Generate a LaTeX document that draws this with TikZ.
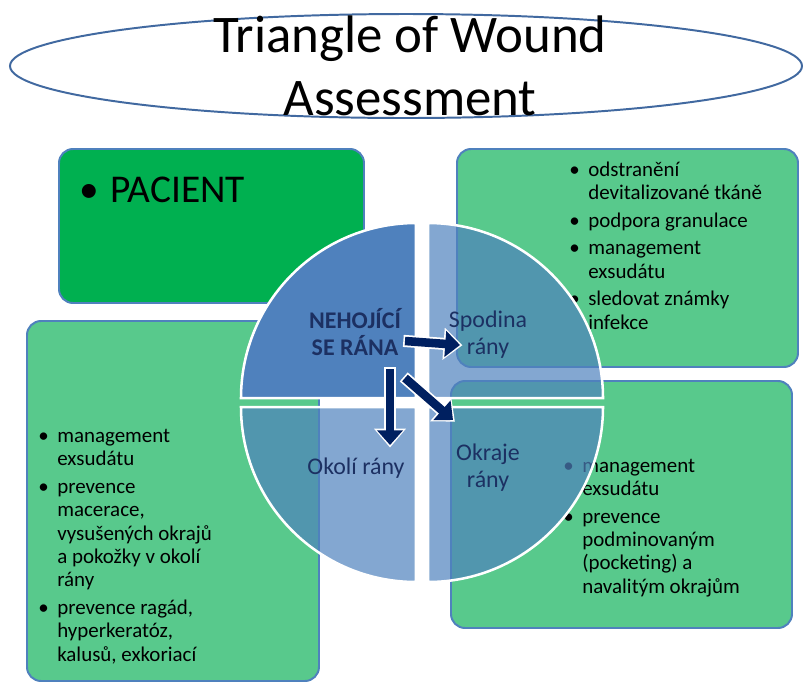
\documentclass[tikz,border=0pt]{standalone}
\usepackage{fontspec}
\setmainfont{Carlito}
\usetikzlibrary{shapes,arrows.meta,positioning}

\definecolor{titleline}{RGB}{65,105,160}
\definecolor{boxline}{RGB}{79,129,189}
\definecolor{pacientgreen}{RGB}{0,176,80}
\definecolor{lightgreen}{RGB}{88,201,140}
\definecolor{quadblue}{RGB}{79,129,189}
\definecolor{labelnavy}{RGB}{28,48,98}
\definecolor{arrownavy}{RGB}{0,32,96}

\newcommand{\bitem}{\makebox[0.475cm][l]{\textbullet}}
\newcommand{\bcont}{\hspace*{0.475cm}}

\begin{document}
\begin{tikzpicture}
	[
		titleoval/.style={draw=titleline, line width=1.4pt},
		greenbox/.style={rectangle, rounded corners=10pt, draw=boxline, line width=1.4pt, fill=lightgreen, anchor=north west, inner sep=0pt},
		listtext/.style={anchor=base west, align=left, inner sep=0pt, font=\fontsize{14.9}{16.6}\selectfont},
		quadrant/.style={fill=quadblue, draw=white, line width=1.8pt},
		quadlabel/.style={anchor=base, align=center, inner sep=0pt, text=labelnavy, font=\fontsize{17}{18.6}\selectfont},
		arrowback/.style={white, line width=8.6pt, -{Triangle[width=22pt,length=13.5pt]}, shorten >=-1.8pt, shorten <=-1.2pt},
		arrowfront/.style={arrownavy, line width=6.1pt, -{Triangle[width=18pt,length=10.5pt]}},
	]

	\useasboundingbox (0,0) rectangle (20.075,-17.075);

	% title (anchored at the baseline of its last line)
	\draw[titleoval] (10.15,-1.65) ellipse (9.9cm and 1.3cm);
	\node[anchor=base, align=center, inner sep=0pt, font=\fontsize{37.6}{44.8}\selectfont] (title) at (10.25,-2.875) {Triangle of Wound\\Assessment};

	% boxes
	\node[greenbox, fill=pacientgreen, minimum width=7.625cm, minimum height=3.85cm] (pacientbox) at (1.45,-3.7) {};
	\node[greenbox, minimum width=8.525cm, minimum height=5.45cm] (spodinabox) at (11.4,-3.7) {};
	\node[greenbox, minimum width=7.3cm, minimum height=9.0cm] (okolibox) at (0.65,-8.0) {};
	\node[greenbox, minimum width=8.525cm, minimum height=6.175cm] (okrajebox) at (11.25,-9.5) {};

	\node[anchor=base west, inner sep=0pt, font=\fontsize{28}{34}\selectfont] (pacient) at (1.975,-5.05) {\makebox[0.775cm][l]{\textbullet}PACIENT};

	\node[listtext] (spodinalist) at (14.225,-8.225) {\bitem odstranění\\\bcont devitalizované tkáně\\[3pt]\bitem podpora granulace\\[3pt]\bitem management\\\bcont exsudátu\\[3pt]\bitem sledovat známky\\\bcont infekce};
	\node[listtext] (okolilist) at (0.95,-16.525) {\bitem management\\\bcont exsudátu\\[3pt]\bitem prevence\\\bcont macerace,\\\bcont vysušených okrajů\\\bcont a pokožky v okolí\\\bcont rány\\[3pt]\bitem prevence ragád,\\\bcont hyperkeratóz,\\\bcont kalusů, exkoriací};
	\node[listtext] (okrajelist) at (14.075,-14.825) {\bitem management\\\bcont exsudátu\\[3pt]\bitem prevence\\\bcont podminovaným\\\bcont (pocketing) a\\\bcont navalitým okrajům};

	% circle of four quadrants
	\path[quadrant] (10.4,-9.95) -- ++(90:4.375) arc (90:180:4.375) -- cycle;
	\path[quadrant, fill opacity=0.7] (10.7,-9.95) -- ++(0:4.375) arc (0:90:4.375) -- cycle;
	\path[quadrant, fill opacity=0.7] (10.4,-10.175) -- ++(180:4.375) arc (180:270:4.375) -- cycle;
	\path[quadrant, fill opacity=0.7] (10.7,-10.175) -- ++(270:4.375) arc (270:360:4.375) -- cycle;

	\node[quadlabel, font=\fontsize{17}{18.6}\selectfont\bfseries] (nehojici) at (8.875,-8.875) {NEHOJÍCÍ\\SE RÁNA};
	\node[quadlabel] (spodina) at (12.2,-8.85) {Spodina\\rány};
	\node[quadlabel] (okoli) at (8.9,-11.85) {Okolí rány};
	\node[quadlabel] (okraje) at (12.2,-12.175) {Okraje\\rány};

	% arrows
	\coordinate (tospodina) at (10.125,-8.525);
	\coordinate (spodinatip) at (11.5,-8.625);
	\coordinate (tookoli) at (9.75,-9.225);
	\coordinate (okolitip) at (9.75,-11.125);
	\coordinate (tookraje) at (10.125,-9.45);
	\coordinate (okrajetip) at (11.325,-10.5);

	\foreach \from/\to in {tospodina/spodinatip, tookoli/okolitip, tookraje/okrajetip}
	{
		\draw[arrowback] (\from) -- (\to);
		\draw[arrowfront] (\from) -- (\to);
	}

\end{tikzpicture}
\end{document}
